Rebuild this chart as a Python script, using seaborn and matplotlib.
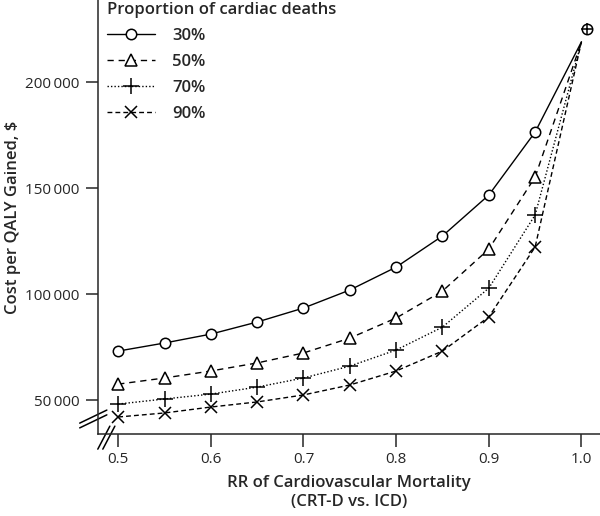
import numpy as np
import pandas as pd
import seaborn as sns
import matplotlib.pyplot as plt
from matplotlib.ticker import FuncFormatter
from matplotlib.lines import Line2D

# RR of cardiovascular mortality
rr = [0.5, 0.55, 0.6, 0.65, 0.7, 0.75, 0.8, 0.85, 0.9, 0.95, 1.0]

# cost per QALY gained, by proportion of cardiac deaths
cost_30 = [73100, 76900, 81100, 86800, 93400, 101900, 112700, 127400, 146700, 176400, 219000]
cost_50 = [57500, 60400, 63700, 67500, 72200, 79200, 88700, 101400, 121200, 155200, 219000]
cost_70 = [48100, 50500, 52800, 56100, 60400, 66000, 73600, 84400, 102800, 137300, 219000]
cost_90 = [42000, 43900, 46700, 49100, 52400, 57100, 63700, 73100, 89200, 122200, 219000]

labels = ['30%', '50%', '70%', '90%']
# common point where all curves meet (RR = 1.0)
end_rr = [1.006]
end_cost = [225000]

df = pd.DataFrame({
    'rr': rr * 4,
    'cost': cost_30 + cost_50 + cost_70 + cost_90,
    'prop': sum([[l] * len(rr) for l in labels], []),
})

sns.set_style('ticks')
plt.rcParams['font.family'] = ['Open Sans', 'DejaVu Sans']

fig = plt.figure(figsize=(6, 5.16), dpi=100)
ax = fig.add_axes([0.163, 0.159, 0.837, 0.841])

styles = {
    '30%': dict(marker='o', ls='-', ms=7.5),
    '50%': dict(marker='^', ls=(0, (4.5, 3.5)), ms=9),
    '70%': dict(marker='+', ls=(0, (1, 1.5)), ms=11),
    '90%': dict(marker='x', ls=(0, (3.5, 2.2)), ms=8),
}

handles = []
for lab in labels:
    st = styles[lab]
    sub = df[df['prop'] == lab]
    sub_pts = sub[sub['rr'] < 1.0]
    sns.lineplot(data=sub, x='rr', y='cost', ax=ax, color='black', lw=1.0,
                 linestyle=st['ls'], legend=False)
    ax.plot(sub_pts['rr'], sub_pts['cost'], ls='none', marker=st['marker'],
            ms=st['ms'], mfc='white', mec='black', mew=1.1)
    handles.append(Line2D([], [], color='black', lw=1.0, linestyle=st['ls'],
                          marker=st['marker'], ms=st['ms'], mfc='white',
                          mec='black', mew=1.1))

ax.plot(end_rr, end_cost, ls='none', marker='o', ms=7.5, mfc='white', mec='black', mew=1.1)
ax.plot(end_rr, end_cost, ls='none', marker='+', ms=9, mec='black', mew=1.1)

ax.set_xlim(0.478, 1.02)
ax.set_ylim(34000, 238700)
ax.set_xticks([0.5, 0.6, 0.7, 0.8, 0.9, 1.0])
ax.set_yticks([50000, 100000, 150000, 200000])
ax.yaxis.set_major_formatter(FuncFormatter(lambda v, p: f"{int(v):,}".replace(',', '\u2009')))
ax.xaxis.set_major_formatter(FuncFormatter(lambda v, p: f"{v:.1f}"))
ax.tick_params(axis='both', direction='out', length=9, width=1.1, labelsize=11, pad=4)
for s in ['top', 'right']:
    ax.spines[s].set_visible(False)
for s in ['left', 'bottom']:
    ax.spines[s].set_linewidth(1.1)

ax.set_xlabel('RR of Cardiovascular Mortality\n(CRT-D vs. ICD)', fontsize=12,
              fontweight='semibold', labelpad=6, linespacing=1.25)
ax.set_ylabel('Cost per QALY Gained, $', fontsize=12, fontweight='semibold', labelpad=3)

# axis break marks
kw = dict(transform=ax.transAxes, color='black', lw=1.1, clip_on=False)
for d in (0.0, 0.011):
    ax.plot([-0.036, 0.018], [0.014 + d, 0.044 + d], **kw)
for d in (0.0, 0.01):
    ax.plot([0.0 + d, 0.024 + d], [-0.035, 0.018], **kw)

leg = ax.legend(handles, labels, title='Proportion of cardiac deaths', loc='upper left',
                bbox_to_anchor=(0.005, 1.01), frameon=False, handlelength=2.9,
                handletextpad=1.0, labelspacing=0.6, borderaxespad=0,
                prop={'size': 12, 'weight': 'semibold'},
                title_fontproperties={'size': 12, 'weight': 'semibold'})
leg._legend_box.align = 'left'

fig.savefig('out.png', dpi=100)
